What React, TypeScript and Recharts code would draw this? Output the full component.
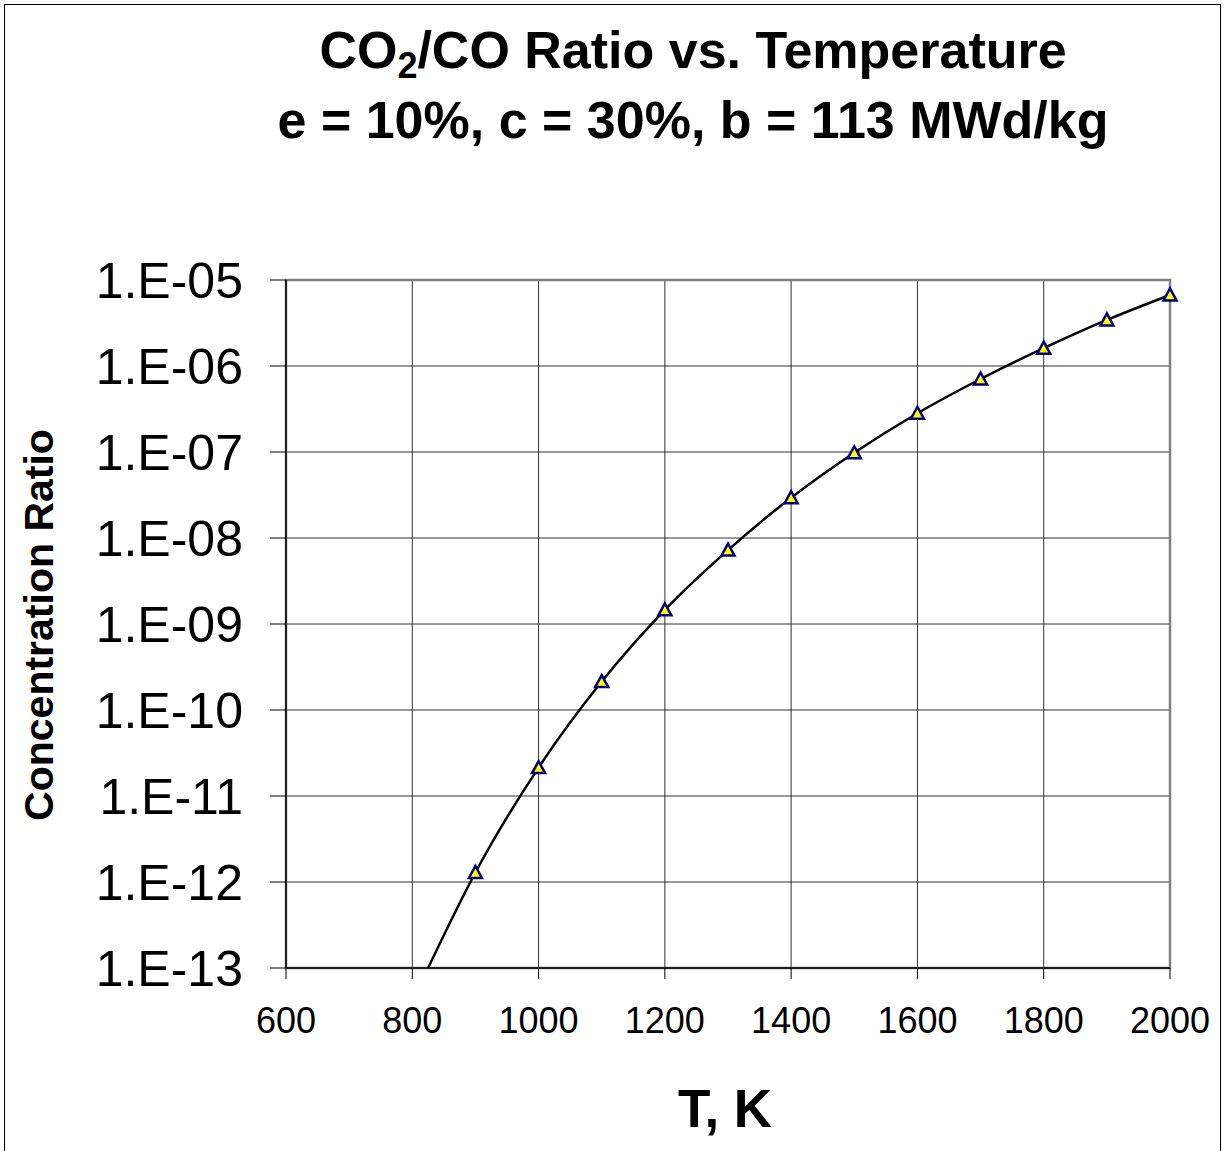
import React from "react";
import {
	CartesianGrid,
	ComposedChart,
	Line,
	ReferenceArea,
	Scatter,
	XAxis,
	YAxis,
} from "recharts";

// temperatures (K) and CO2/CO concentration ratio at each computed point
const temps = [900, 1000, 1100, 1200, 1300, 1400, 1500, 1600, 1700, 1800, 1900, 2000];
const ratios = [
	1.29e-12, 2.14e-11, 2.14e-10, 1.46e-9, 7.24e-9, 2.94e-8, 9.8e-8, 2.82e-7,
	7.06e-7, 1.61e-6, 3.43e-6, 6.7e-6,
];

// the fitted curve carries on below the first marker down to the axis floor
const tailT = 825;
const tailRatio = 1e-13;

const xTicks = [600, 800, 1000, 1200, 1400, 1600, 1800, 2000];
const yTicks = [1e-13, 1e-12, 1e-11, 1e-10, 1e-9, 1e-8, 1e-7, 1e-6, 1e-5];

const points = temps.map((t, i) => ({ t, ratio: ratios[i] }));
const curve = [{ t: tailT, ratio: tailRatio }, ...points];

const FONT = "'Liberation Sans', Arial, Helvetica, sans-serif";

const W = 1225;
const H = 1151;

const formatExp = (v: number) => {
	const e = Math.round(Math.log10(v));
	const sign = e < 0 ? "-" : "+";
	return `1.E${sign}${String(Math.abs(e)).padStart(2, "0")}`;
};

const Triangle = (props: any) => {
	const { cx, cy } = props;
	if (cx == null || cy == null) return null;
	const d = `M${cx},${cy - 6.5} L${cx + 6.5},${cy + 5.5} L${cx - 6.5},${cy + 5.5} Z`;
	return (
		<path d={d} fill="#ffff00" stroke="#000080" strokeWidth={2.5} strokeLinejoin="miter" />
	);
};

export default function App() {
	return (
		<div
			style={{
				position: "absolute",
				left: 0,
				top: 0,
				width: W,
				height: H,
				overflow: "hidden",
				background: "#fff",
				fontFamily: FONT,
			}}
		>
			<div
				style={{
					position: "absolute",
					left: 4,
					top: 4,
					width: 1215,
					height: 1170,
					border: "1.5px solid #000",
				}}
			/>
			<div style={{ position: "absolute", left: 0, top: 0 }}>
				<ComposedChart
					width={W}
					height={H}
					margin={{ top: 280, right: 55, bottom: 0, left: 0 }}
					style={{ fontFamily: FONT }}
				>
					<CartesianGrid stroke="#333" strokeWidth={1} />
					<ReferenceArea
						x1={600}
						x2={2000}
						y1={1e-13}
						y2={1e-5}
						fill="none"
						stroke="#808080"
						strokeWidth={2.5}
					/>
					<XAxis
						dataKey="t"
						type="number"
						domain={[600, 2000]}
						ticks={xTicks}
						height={183}
						tickSize={11}
						tickMargin={28}
						axisLine={{ stroke: "#000", strokeWidth: 1.5 }}
						tickLine={{ stroke: "#000", strokeWidth: 1 }}
						tick={{ fontSize: 36, fill: "#000", fontFamily: FONT }}
					/>
					<YAxis
						dataKey="ratio"
						type="number"
						scale="log"
						domain={[1e-13, 1e-5]}
						ticks={yTicks}
						width={286}
						tickSize={16}
						tickMargin={27}
						tickFormatter={formatExp}
						axisLine={{ stroke: "#000", strokeWidth: 1.5 }}
						tickLine={{ stroke: "#000", strokeWidth: 1 }}
						tick={{ fontSize: 50, fill: "#000", fontFamily: FONT }}
					/>
					<Line
						data={curve}
						dataKey="ratio"
						type="monotone"
						stroke="#000"
						strokeWidth={2.5}
						dot={false}
						activeDot={false}
						isAnimationActive={false}
					/>
					<Scatter
						data={points}
						dataKey="ratio"
						shape={Triangle}
						isAnimationActive={false}
					/>
				</ComposedChart>
			</div>
			<svg
				width={W}
				height={H}
				style={{ position: "absolute", left: 0, top: 0, pointerEvents: "none" }}
				fontFamily={FONT}
			>
				<text x={693} y={68} textAnchor="middle" fontSize={52} fontWeight="bold" fill="#000">
					CO
					<tspan fontSize={36} dy={10}>
						2
					</tspan>
					<tspan dy={-10}>/CO Ratio vs. Temperature</tspan>
				</text>
				<text x={693} y={138} textAnchor="middle" fontSize={52} fontWeight="bold" fill="#000">
					e = 10%, c = 30%, b = 113 MWd/kg
				</text>
				<text x={725} y={1127} textAnchor="middle" fontSize={53} fontWeight="bold" fill="#000">
					T, K
				</text>
				<text
					x={53}
					y={625}
					transform="rotate(-90 53 625)"
					textAnchor="middle"
					fontSize={41}
					fontWeight="bold"
					fill="#000"
				>
					Concentration Ratio
				</text>
			</svg>
		</div>
	);
}
